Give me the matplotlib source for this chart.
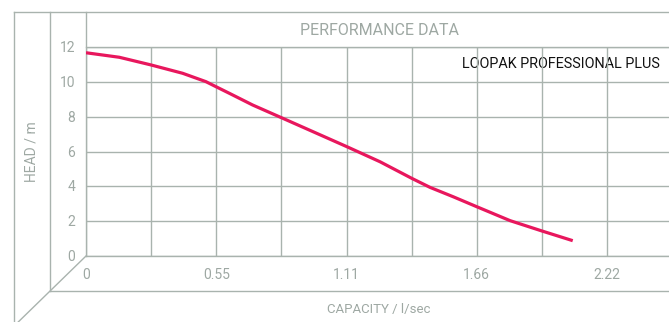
import matplotlib.pyplot as plt
import numpy as np

# pump curve: capacity (l/sec) vs head (m)
capacity = [0.0, 0.142, 0.277, 0.412, 0.511, 0.554, 0.611, 0.71, 0.838, 1.111,
            1.253, 1.388, 1.466, 1.565, 1.665, 1.807, 1.942, 2.074]
head = [11.67, 11.41, 10.97, 10.49, 10.01, 9.72, 9.34, 8.67, 7.91, 6.28,
        5.41, 4.46, 3.94, 3.40, 2.83, 2.03, 1.44, 0.88]
x_ticks = [0, 0.555, 1.11, 1.665, 2.22]
x_ticklabels = ["0", "0.55", "1.11", "1.66", "2.22"]
y_ticks = [0, 2, 4, 6, 8, 10, 12]

plt.rcParams['font.family'] = ['Roboto', 'DejaVu Sans']
grid_c = "#a9b3ae"
text_c = "#9ea8a3"
W, H = 669, 322

fig = plt.figure(figsize=(W / 100, H / 100), dpi=100)

# main plot area (pixels: left 86, top 47, bottom 256, right edge)
ax = fig.add_axes([86 / W, (H - 256) / H, 1 - 86 / W, (256 - 47) / H])
xmax = (W - 86) / 521 * 2.22
ax.set_xlim(0, xmax)
ax.set_ylim(0, 12)
ax.set_xticks(np.arange(0, xmax, 0.2775))
ax.set_yticks(y_ticks)
ax.grid(True, color=grid_c, lw=1)
ax.tick_params(length=0, labelleft=False, labelbottom=False)
for s in ax.spines.values():
    s.set_visible(False)
ax.plot(capacity, head, color="#e8175d", lw=2.3, solid_capstyle="butt", solid_joinstyle="round")
ax.set_zorder(1)
ax.patch.set_alpha(0)

# overlay in pixel coordinates for frame and labels
ov = fig.add_axes([0, 0, 1, 1])
ov.set_xlim(0, W)
ov.set_ylim(H, 0)
ov.axis("off")
lines = [
    ((14, W), (12, 12)),
    ((14, 14), (12, 330)),
    ((50, 50), (12, 291)),
    ((86, 86), (12, 256)),
    ((86, W), (47, 47)),
    ((86, W), (256, 256)),
    ((50, W), (291, 291)),
    ((86, 10), (256, 330)),
]
for xs, ys in lines:
    ov.plot(xs, ys, color=grid_c, lw=1)

ov.text(380, 30, "PERFORMANCE DATA", color=text_c, fontsize=11.5, ha="center", va="center")
ov.text(660, 64, "LOOPAK PROFESSIONAL PLUS", color="#111111", fontsize=10.4, ha="right", va="center")
for v in y_ticks:
    ov.text(75, 256 - v * 209 / 12 + 1, str(v), color=text_c, fontsize=10, ha="right", va="center")
for v, lab in zip(x_ticks, x_ticklabels):
    ov.text(86 + v / 2.22 * 521, 275, lab, color=text_c, fontsize=10, ha="center", va="center")
ov.text(32, 152, "HEAD / m", color=text_c, fontsize=10, rotation=90, ha="center", va="center")
ov.text(379, 309, "CAPACITY / l/sec", color=text_c, fontsize=9.5, ha="center", va="center")

fig.savefig("out.png", dpi=100)
